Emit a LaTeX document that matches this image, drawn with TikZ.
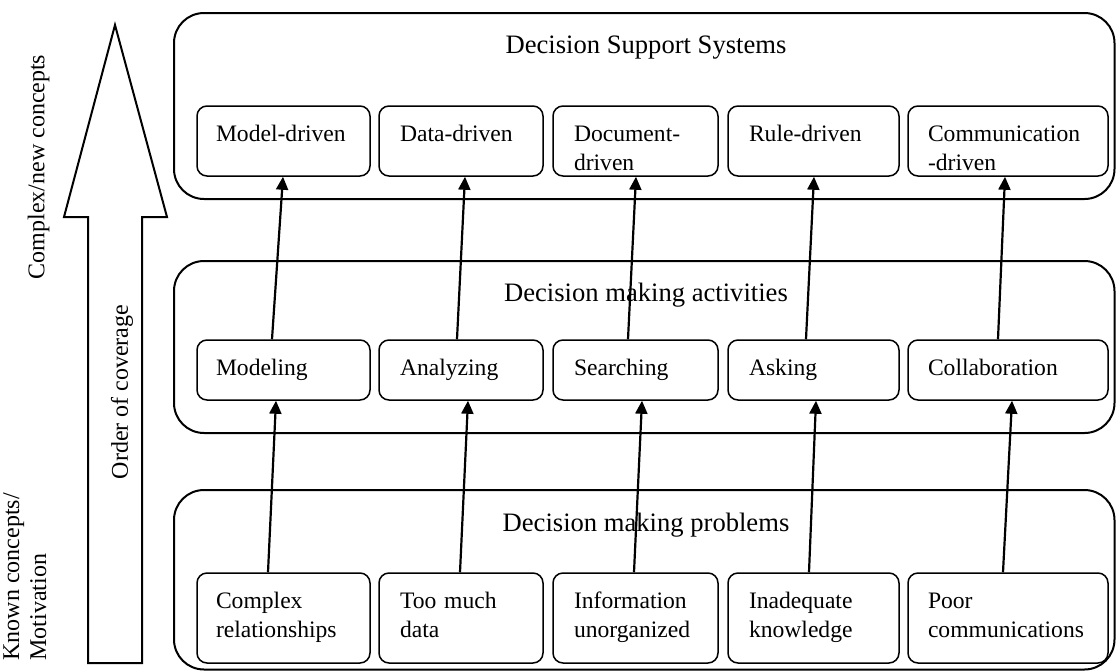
\documentclass[tikz,border=0pt]{standalone}
\usepackage{fontspec}
\setmainfont{Liberation Serif}
\usetikzlibrary{arrows.meta}

\tikzset{
  panel/.style={line width=1pt, rounded corners=15pt},
  cell/.style={draw, line width=0.75pt, rounded corners=5pt, align=left,
    inner xsep=10.5pt, inner ysep=0pt, text height=17.5pt,
    font=\fontsize{11.8}{14.8}\selectfont},
  r1/.style={text depth=17.5pt},
  r2/.style={text depth=12.5pt},
  r3/.style={text depth=27.5pt},
  c1/.style={text width=67.5pt, inner xsep=9.5pt},
  c2/.style={text width=61pt},
  c3/.style={text width=61.5pt},
  c4/.style={text width=64.5pt},
  c5/.style={text width=80pt, inner xsep=10pt},
  title/.style={font=\fontsize{13.3}{16}\selectfont},
  side/.style={rotate=90, font=\fontsize{12}{13.5}\selectfont},
  conn/.style={line width=1.1pt, -{Triangle[length=6.5pt,width=6pt]}},
}

\begin{document}
\begin{tikzpicture}[x=0.5pt, y=-0.5pt]
    \useasboundingbox (0,0) rectangle (1116,671);
    % 左侧大箭头
    \draw[line width=1pt] (88,663) -- (88,217) -- (64,217) -- (115,25) -- (167,217) -- (142,217) -- (142,663) -- cycle;
    \node[side] (cpx) at (38.5,167) {Complex/new concepts}; % 上方说明
    \node[side] (ord) at (122,392) {Order of coverage}; % 箭头内文字
    \node[side, align=left, anchor=north west, inner sep=0pt] (knw) at (3,661) {Known concepts/\\Motivation}; % 下方说明

    % 三个外框
    \draw[panel] (174,13) rectangle (1114.5,199);
    \draw[panel] (174,261) rectangle (1114.5,433);
    \draw[panel] (174,490) rectangle (1114.5,669.5);
    \node[title] (dss) at (646,48) {Decision Support Systems};
    \node[title] (act) at (646,295) {Decision making activities};
    \node[title] (prb) at (646,525) {Decision making problems};

    % 第一行
    \node[cell,c1,r1] (modl) at (283.5,141) {Model-driven};
    \node[cell,c2,r1] (data) at (461,141) {Data-driven};
    \node[cell,c3,r1] (docu) at (635.5,141) {Document-\\driven};
    \node[cell,c4,r1] (rule) at (813.5,141) {Rule-driven};
    \node[cell,c5,r1] (comm) at (1008,141) {Communication\\-driven};

    % 第二行
    \node[cell,c1,r2] (mdlg) at (283.5,370) {Modeling};
    \node[cell,c2,r2] (anlz) at (461,370) {Analyzing};
    \node[cell,c3,r2] (srch) at (635.5,370) {Searching};
    \node[cell,c4,r2] (askg) at (813.5,370) {Asking};
    \node[cell,c5,r2] (colb) at (1008,370) {Collaboration};

    % 第三行
    \node[cell,c1,r3] (cplx) at (283.5,618) {Complex\\relationships};
    \node[cell,c2,r3] (much) at (461,618) {Too much\\data};
    \node[cell,c3,r3] (info) at (635.5,618) {Information\\unorganized};
    \node[cell,c4,r3] (inad) at (813.5,618) {Inadequate\\knowledge};
    \node[cell,c5,r3] (poor) at (1008,618) {Poor\\communications};

    % 连线
    \draw[conn] ([shift={(-15.5,0)}]cplx.north) -- ([shift={(-7.5,0)}]mdlg.south);
    \draw[conn] ([shift={(-11.5,0)}]mdlg.north) -- ([shift={(-0.5,0)}]modl.south);
    \draw[conn] ([shift={(-1,0)}]much.north) -- ([shift={(7,0)}]anlz.south);
    \draw[conn] ([shift={(-4,0)}]anlz.north) -- ([shift={(4,0)}]data.south);
    \draw[conn] ([shift={(-1.5,0)}]info.north) -- ([shift={(6.5,0)}]srch.south);
    \draw[conn] ([shift={(-7.5,0)}]srch.north) -- ([shift={(0.5,0)}]docu.south);
    \draw[conn] ([shift={(-4.5,0)}]inad.north) -- ([shift={(2.5,0)}]askg.south);
    \draw[conn] ([shift={(-7.5,0)}]askg.north) -- ([shift={(0.5,0)}]rule.south);
    \draw[conn] ([shift={(-5,0)}]poor.north) -- ([shift={(4,0)}]colb.south);
    \draw[conn] ([shift={(-10,0)}]colb.north) -- ([shift={(-3,0)}]comm.south);
\end{tikzpicture}
\end{document}
